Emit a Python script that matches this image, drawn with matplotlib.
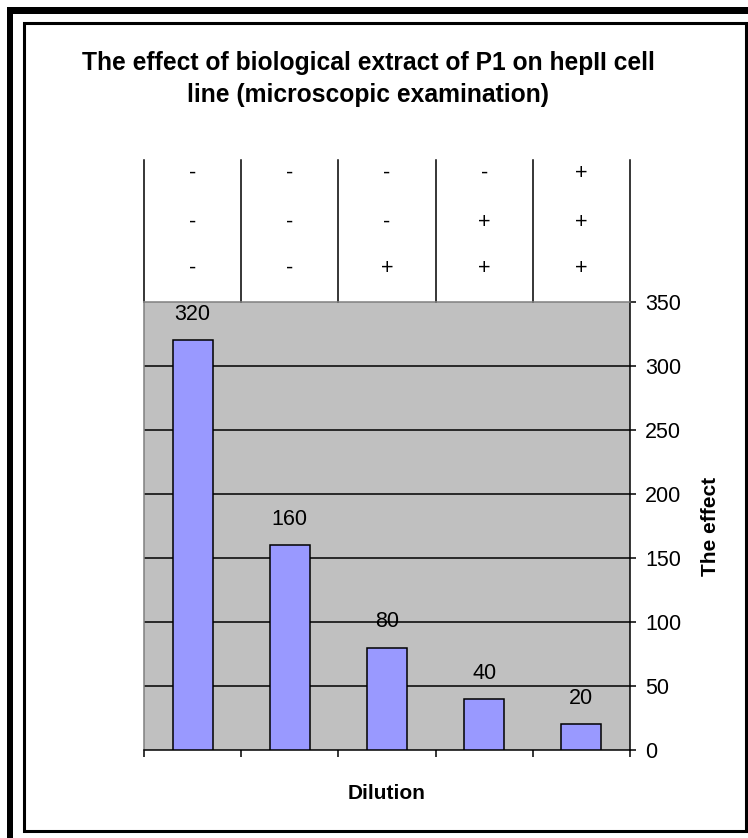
import matplotlib
matplotlib.use("Agg")
import matplotlib.pyplot as plt
from matplotlib.patches import Rectangle
import matplotlib.transforms as mtransforms

plt.rcParams['font.family'] = ['Liberation Sans', 'DejaVu Sans']

values = [320, 160, 80, 40, 20]
row1 = ['-', '-', '-', '-', '+']
row2 = ['-', '-', '-', '+', '+']
row3 = ['-', '-', '+', '+', '+']
yticks = [0, 50, 100, 150, 200, 250, 300, 350]
title = "The effect of biological extract of P1 on hepII cell\nline (microscopic examination)"

W, H = 748, 838
fig = plt.figure(figsize=(W / 100, H / 100), dpi=100)

def fx(px):
    return px / W

def fy(py):
    return 1 - py / H

FS = 15.5

# frame
fig.add_artist(Rectangle((fx(7), fy(14)), fx(741), 7 / H, transform=fig.transFigure,
                         facecolor='black', edgecolor='none'))
fig.add_artist(Rectangle((fx(7), 0), 6 / W, fy(7), transform=fig.transFigure,
                         facecolor='black', edgecolor='none'))
fig.add_artist(Rectangle((fx(23.5), fy(831)), fx(746 - 23.5), (831 - 23.5) / H,
                         transform=fig.transFigure, facecolor='none',
                         edgecolor='black', linewidth=2.2))

ax = fig.add_axes([fx(144), fy(750), fx(630 - 144), (750 - 302) / H])
ax.set_facecolor('#C0C0C0')
x = list(range(len(values)))
ax.bar(x, values, width=0.41, color='#9999FF', edgecolor='black', linewidth=1.1, zorder=3)
ax.set_xlim(-0.5, len(values) - 0.5)
ax.set_ylim(0, 350)
for v in yticks[1:-1]:
    ax.axhline(v, color='black', linewidth=1.1, zorder=1)

for xi, v in zip(x, values):
    ax.annotate(str(v), (xi, v), xytext=(0, 18.5), textcoords='offset points',
                ha='center', va='center', fontsize=FS)

ax.yaxis.tick_right()
ax.set_yticks(yticks)
ax.tick_params(axis='y', direction='out', length=4, width=1.1, pad=7, labelsize=FS)
ax.set_xticks([i - 0.5 for i in range(len(values) + 1)])
ax.set_xticklabels([])
ax.tick_params(axis='x', direction='out', length=5, width=1.1)
ax.spines['left'].set_color('#808080')
ax.spines['top'].set_color('#808080')
ax.spines['right'].set_color('black')
ax.spines['bottom'].set_color('black')
for s in ax.spines.values():
    s.set_linewidth(1.1)

ax.yaxis.set_label_position('right')
ax.set_ylabel('The effect', fontsize=15, fontweight='bold', labelpad=14)
ax.set_xlabel('Dilution', fontsize=15, fontweight='bold', labelpad=16)

# table above plot
trans = mtransforms.blended_transform_factory(ax.transData, ax.transAxes)
top = (750 - 160) / 448
for b in range(len(values) + 1):
    ax.plot([b - 0.5, b - 0.5], [1, top], color='black', linewidth=1.1,
            transform=trans, clip_on=False)
for row, py in zip([row1, row2, row3], [173, 222, 268]):
    yy = (750 - py) / 448
    for xi, s in zip(x, row):
        ax.text(xi, yy, s, transform=trans, ha='center', va='center', fontsize=FS)

fig.text(fx(368), fy(79), title, ha='center', va='center', fontsize=17.7,
         fontweight='bold', linespacing=1.45)

fig.savefig('out.png', dpi=100)
